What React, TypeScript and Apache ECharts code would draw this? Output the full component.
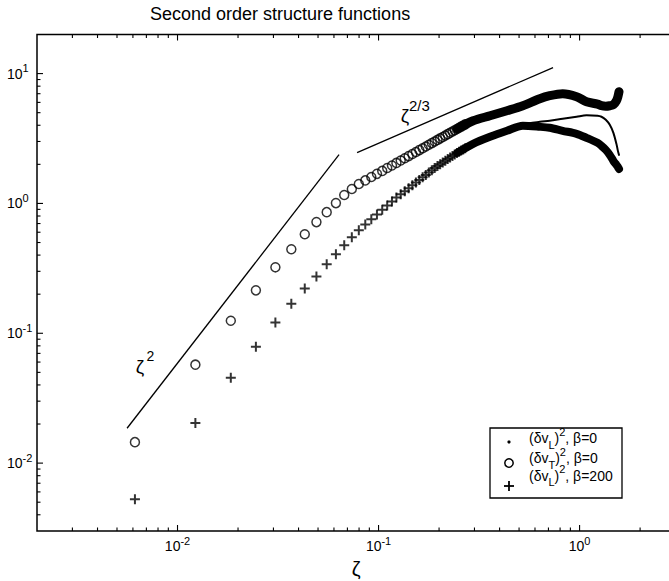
import React, { useEffect, useRef } from 'react';
import * as echarts from 'echarts';

const FONT = '"Liberation Sans", Arial, Helvetica, sans-serif';

const titleText = 'Second order structure functions';
const xAxisName = 'ζ';

// sparse part of the grid (n = 1..44), markers visible individually
const sparseZeta = [
  0.00614, 0.01227, 0.01841, 0.02454, 0.03068, 0.03682, 0.04295, 0.04909, 0.05522, 0.06136,
  0.0675, 0.07363, 0.07977, 0.0859, 0.09204, 0.09818, 0.1043, 0.1104, 0.1166, 0.1227,
  0.1289, 0.135, 0.1411, 0.1473, 0.1534, 0.1595, 0.1657, 0.1718, 0.1779, 0.1841,
  0.1902, 0.1964, 0.2025, 0.2086, 0.2148, 0.2209, 0.227, 0.2332, 0.2393, 0.2454,
  0.2516, 0.2577, 0.2638, 0.27,
];
// (δv_T)^2, β=0  (circles)
const transverseSparse = [
  0.0145, 0.0573, 0.125, 0.214, 0.322, 0.444, 0.579, 0.718, 0.857, 1.006,
  1.16, 1.29, 1.411, 1.504, 1.597, 1.689, 1.781, 1.872, 1.961, 2.051,
  2.139, 2.227, 2.315, 2.403, 2.489, 2.575, 2.661, 2.746, 2.831, 2.916,
  3.001, 3.084, 3.168, 3.251, 3.334, 3.417, 3.498, 3.58, 3.661, 3.743,
  3.824, 3.904, 3.984, 4.064,
];
// (δv_L)^2, β=200  (plus)
const beta200Sparse = [
  0.00527, 0.0204, 0.0454, 0.0788, 0.121, 0.169, 0.221, 0.274, 0.34, 0.406,
  0.476, 0.549, 0.622, 0.687, 0.754, 0.822, 0.892, 0.963, 1.035, 1.11,
  1.176, 1.243, 1.311, 1.38, 1.448, 1.518, 1.588, 1.658, 1.73, 1.801,
  1.873, 1.945, 2.007, 2.07, 2.133, 2.195, 2.258, 2.32, 2.384, 2.445,
  2.499, 2.553, 2.606, 2.66,
];

// dense part where markers merge into a solid band
const denseZeta = [
  0.2461, 0.2954, 0.3584, 0.4351, 0.5222, 0.6339, 0.7101, 0.8239, 0.9663, 1.083,
  1.228, 1.285, 1.35, 1.413, 1.473, 1.525, 1.551, 1.571,
];
const transverseDense = [
  3.755, 4.331, 4.734, 5.175, 5.656, 6.408, 6.76, 7.005, 6.641, 6.074,
  5.81, 5.656, 5.606, 5.656, 5.758, 6.183, 6.641, 7.257,
];
const beta200Dense = [
  2.45, 2.875, 3.258, 3.625, 3.962, 3.892, 3.824, 3.625, 3.437, 3.2,
  2.928, 2.776, 2.585, 2.364, 2.125, 1.979, 1.909, 1.843,
];
// (δv_L)^2, β=0 (dots) – visible once it leaves the β=200 band
const longZeta = [
  0.3584, 0.4351, 0.5222, 0.6339, 0.7101, 0.8239, 0.9663, 1.083, 1.228, 1.285,
  1.35, 1.413, 1.473, 1.525, 1.551, 1.571,
];
const longitudinal0 = [
  3.375, 3.755, 4.069, 4.255, 4.331, 4.488, 4.651, 4.776, 4.734, 4.651,
  4.409, 4.034, 3.498, 2.875, 2.539, 2.364,
];

// reference slopes
const slope2Zeta = [0.00561, 0.0636];
const slope2Values = [0.01856, 2.372];
const slope23Zeta = [0.0782, 0.738];
const slope23Values = [2.458, 11.13];

// ticks
const xMajorTicks = [0.01, 0.1, 1];
const xMinorTicks = [
  0.003, 0.004, 0.005, 0.006, 0.007, 0.008, 0.009,
  0.02, 0.03, 0.04, 0.05, 0.06, 0.07, 0.08, 0.09,
  0.2, 0.3, 0.4, 0.5, 0.6, 0.7, 0.8, 0.9, 2, 3,
];
const yMajorTicks = [0.01, 0.1, 1, 10];
const yMinorTicks = [
  0.004, 0.005, 0.006, 0.007, 0.008, 0.009,
  0.02, 0.03, 0.04, 0.05, 0.06, 0.07, 0.08, 0.09,
  0.2, 0.3, 0.4, 0.5, 0.6, 0.7, 0.8, 0.9,
  2, 3, 4, 5, 6, 7, 8, 9,
];

const legendLines = [
  '{b|(δv}{sub|L}{b|)}{sup|2}{b|, β=0}',
  '{b|(δv}{sub|T}{b|)}{sup|2}{b|, β=0}',
  '{b|(δv}{sub|L}{b|)}{sup|2}{b|, β=200}',
];

const pairs = (xs: number[], ys: number[]) => xs.map((x, i) => [x, ys[i]]);

const PLUS = 'path://M4,0H6V4H10V6H6V10H4V6H0V4H4Z';

const powLabel = (v: number) => {
  const l = Math.log10(v);
  const e = Math.round(l);
  if (Math.abs(l - e) > 1e-6) return '';
  return `{b|10}{s|${e}}`;
};

const legendRich = {
  b: { fontSize: 14, lineHeight: 24, fontFamily: FONT, color: '#000' },
  sup: { fontSize: 11, lineHeight: 10, verticalAlign: 'top', fontFamily: FONT, color: '#000' },
  sub: { fontSize: 11, lineHeight: 10, verticalAlign: 'bottom', fontFamily: FONT, color: '#000' },
};

function buildOption() {
  const blackLine = { color: '#000', width: 1.3 };
  return {
    animation: false,
    backgroundColor: '#fff',
    textStyle: { fontFamily: FONT, color: '#000' },
    title: {
      text: titleText,
      left: 150,
      top: 5,
      padding: 0,
      textStyle: { fontSize: 18, fontWeight: 'normal', color: '#000', fontFamily: FONT },
    },
    grid: {
      left: 37,
      top: 34.5,
      width: 638.5,
      height: 496.5,
      show: true,
      borderColor: '#000',
      borderWidth: 1.5,
      backgroundColor: 'transparent',
      outerBoundsMode: 'none',
    },
    xAxis: {
      type: 'log',
      logBase: 10,
      min: 0.002,
      max: 3,
      axisLine: { show: false },
      axisTick: { show: false },
      splitLine: { show: false },
      axisLabel: {
        formatter: powLabel,
        margin: 4,
        showMinLabel: false,
        showMaxLabel: false,
        rich: {
          b: { fontSize: 14, lineHeight: 22, fontFamily: FONT, color: '#000' },
          s: { fontSize: 11, lineHeight: 10, verticalAlign: 'top', fontFamily: FONT, color: '#000' },
        },
      },
      name: xAxisName,
      nameLocation: 'middle',
      nameGap: 28,
      nameTextStyle: { fontSize: 20, fontFamily: FONT, color: '#000' },
    },
    yAxis: {
      type: 'log',
      logBase: 10,
      min: 0.003,
      max: 20,
      axisLine: { show: false },
      axisTick: { show: false },
      splitLine: { show: false },
      axisLabel: {
        formatter: powLabel,
        align: 'left',
        margin: 30,
        showMinLabel: false,
        showMaxLabel: false,
        rich: {
          b: { fontSize: 14, lineHeight: 22, fontFamily: FONT, color: '#000' },
          s: { fontSize: 11, lineHeight: 10, verticalAlign: 'top', fontFamily: FONT, color: '#000' },
        },
      },
    },
    series: [
      {
        type: 'custom',
        name: 'xticks',
        silent: true,
        data: [
          ...xMajorTicks.map((v) => [v, 1, 6]),
          ...xMinorTicks.map((v) => [v, 1, 3.5]),
        ],
        encode: { x: 0, y: 1 },
        renderItem: (params: any, api: any) => {
          const cs = params.coordSys;
          const x = api.coord([api.value(0), 1])[0];
          const len = api.value(2);
          const st = { stroke: '#000', lineWidth: 1.1 };
          return {
            type: 'group',
            children: [
              { type: 'line', shape: { x1: x, y1: cs.y + cs.height, x2: x, y2: cs.y + cs.height - len }, style: st },
              { type: 'line', shape: { x1: x, y1: cs.y, x2: x, y2: cs.y + len }, style: st },
            ],
          };
        },
      },
      {
        type: 'custom',
        name: 'yticks',
        silent: true,
        data: [
          ...yMajorTicks.map((v) => [0.1, v, 6]),
          ...yMinorTicks.map((v) => [0.1, v, 3.5]),
        ],
        encode: { x: 0, y: 1 },
        renderItem: (params: any, api: any) => {
          const cs = params.coordSys;
          const y = api.coord([0.1, api.value(1)])[1];
          const len = api.value(2);
          const st = { stroke: '#000', lineWidth: 1.1 };
          return {
            type: 'group',
            children: [
              { type: 'line', shape: { x1: cs.x, y1: y, x2: cs.x + len, y2: y }, style: st },
              { type: 'line', shape: { x1: cs.x + cs.width, y1: y, x2: cs.x + cs.width - len, y2: y }, style: st },
            ],
          };
        },
      },
      {
        type: 'line',
        name: 'zeta^2',
        data: pairs(slope2Zeta, slope2Values),
        symbol: 'none',
        lineStyle: blackLine,
        silent: true,
      },
      {
        type: 'line',
        name: 'zeta^(2/3)',
        data: pairs(slope23Zeta, slope23Values),
        symbol: 'none',
        lineStyle: blackLine,
        silent: true,
      },
      {
        type: 'scatter',
        name: '(δv_T)^2, β=0',
        data: pairs(sparseZeta, transverseSparse),
        symbol: 'circle',
        symbolSize: 9,
        itemStyle: { color: 'rgba(0,0,0,0)', borderColor: '#000', borderWidth: 1.5 },
      },
      {
        type: 'line',
        name: '(δv_T)^2, β=0 dense',
        data: pairs(denseZeta, transverseDense),
        symbol: 'none',
        smooth: 0.3,
        lineStyle: { color: '#000', width: 9, cap: 'round', join: 'round' },
      },
      {
        type: 'scatter',
        name: '(δv_L)^2, β=200',
        data: pairs(sparseZeta, beta200Sparse),
        symbol: PLUS,
        symbolSize: 10,
        itemStyle: { color: '#000' },
      },
      {
        type: 'line',
        name: '(δv_L)^2, β=200 dense',
        data: pairs(denseZeta, beta200Dense),
        symbol: 'none',
        smooth: 0.3,
        lineStyle: { color: '#000', width: 8, cap: 'round', join: 'round' },
      },
      {
        type: 'line',
        name: '(δv_L)^2, β=0',
        data: pairs(longZeta, longitudinal0),
        symbol: 'none',
        smooth: 0.3,
        z: 5,
        lineStyle: { color: '#000', width: 2, cap: 'round', join: 'round' },
      },
    ],
    graphic: [
      // slope annotations
      { type: 'text', x: 140, y: 366, style: { text: 'ζ', fontSize: 19, fontFamily: FONT, fill: '#000', align: 'center', verticalAlign: 'middle' } },
      { type: 'text', x: 146.5, y: 356, style: { text: '2', fontSize: 14, fontFamily: FONT, fill: '#000', align: 'left', verticalAlign: 'middle' } },
      { type: 'text', x: 405, y: 115, style: { text: 'ζ', fontSize: 19, fontFamily: FONT, fill: '#000', align: 'center', verticalAlign: 'middle' } },
      { type: 'text', x: 409, y: 105.5, style: { text: '2/3', fontSize: 15, fontFamily: FONT, fill: '#000', align: 'left', verticalAlign: 'middle' } },
      // legend
      { type: 'rect', shape: { x: 490, y: 428, width: 132, height: 70 }, style: { fill: '#fff', stroke: '#000', lineWidth: 1.3 }, z: 10 },
      { type: 'circle', shape: { cx: 509, cy: 442, r: 1.6 }, style: { fill: '#000' }, z: 11 },
      { type: 'circle', shape: { cx: 509, cy: 463, r: 4.2 }, style: { fill: 'none', stroke: '#000', lineWidth: 1.5 }, z: 11 },
      { type: 'line', shape: { x1: 504, y1: 486, x2: 514, y2: 486 }, style: { stroke: '#000', lineWidth: 1.8 }, z: 11 },
      { type: 'line', shape: { x1: 509, y1: 481, x2: 509, y2: 491 }, style: { stroke: '#000', lineWidth: 1.8 }, z: 11 },
      ...legendLines.map((t, i) => ({
        type: 'text',
        x: 529,
        y: [438.3, 458.3, 475.5][i],
        z: 11,
        style: { text: t, rich: legendRich, align: 'left', verticalAlign: 'middle', fill: '#000', fontFamily: FONT, fontSize: 14 },
      })),
    ],
  };
}

export default function App() {
  const ref = useRef<HTMLDivElement>(null);
  useEffect(() => {
    if (!ref.current) return;
    const chart = echarts.init(ref.current, null, { renderer: 'svg' });
    chart.setOption(buildOption() as any);
    return () => chart.dispose();
  }, []);
  return (
    <div
      ref={ref}
      style={{ position: 'absolute', left: 0, top: 0, width: 669, height: 581, background: '#fff' }}
    />
  );
}
